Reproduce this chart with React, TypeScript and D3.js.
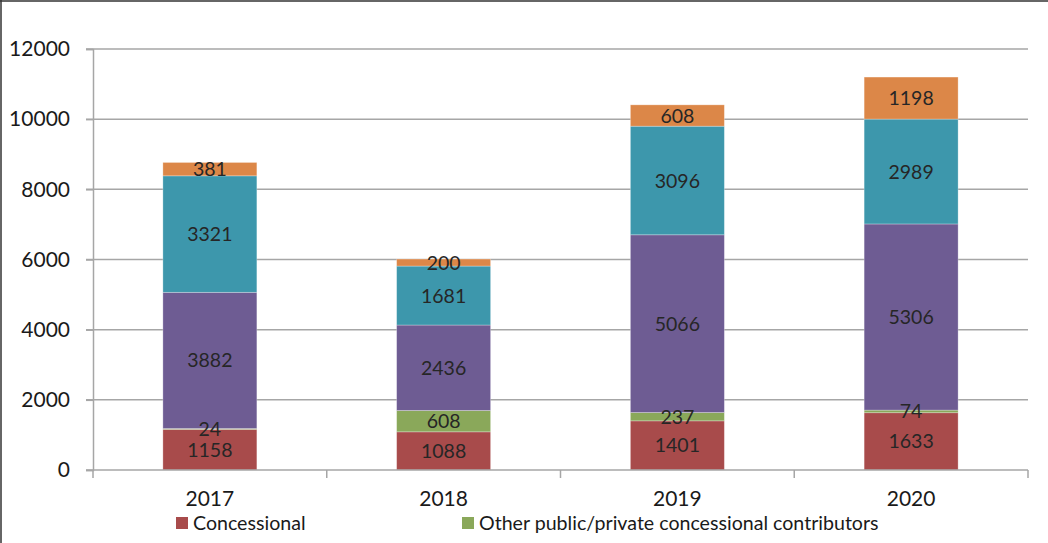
import { useEffect, useRef } from 'react';
import * as d3 from 'd3';

const years = ['2017', '2018', '2019', '2020'];
const seriesNames = [
  'Concessional',
  'Other public/private concessional contributors',
  'Series 3',
  'Series 4',
  'Series 5'
];
const concessional = [1158, 1088, 1401, 1633];
const otherContributors = [24, 608, 237, 74];
const series3 = [3882, 2436, 5066, 5306];
const series4 = [3321, 1681, 3096, 2989];
const series5 = [381, 200, 608, 1198];
const colors = ['#A84B4B', '#8AA85A', '#6E5C93', '#3D97AC', '#DC8748'];
const yTicks = [0, 2000, 4000, 6000, 8000, 10000, 12000];
const legendShown = [0, 1];

export default function App() {
  const svgRef = useRef<SVGSVGElement>(null);

  useEffect(() => {
    const svg = d3.select(svgRef.current);
    svg.selectAll('*').remove();

    const width = 1048;
    const height = 543;
    const margin = { top: 49, right: 20, bottom: 73, left: 93 };
    const innerWidth = width - margin.left - margin.right;
    const innerHeight = height - margin.top - margin.bottom;
    const font = 'Lato, "Open Sans", sans-serif';
    const gridColor = '#A6A6A6';

    // frame (cropped on right/bottom in the original)
    svg.append('line').attr('x1', 1).attr('x2', 1).attr('y1', 0).attr('y2', height).attr('stroke', '#333').attr('stroke-width', 1.5);
    svg.append('line').attr('x1', 0).attr('x2', width).attr('y1', 1).attr('y2', 1).attr('stroke', '#333').attr('stroke-width', 1.5);

    const g = svg.append('g').attr('transform', `translate(${margin.left},${margin.top})`);

    const rows = years.map((year, i) => ({
      year,
      s0: concessional[i],
      s1: otherContributors[i],
      s2: series3[i],
      s3: series4[i],
      s4: series5[i]
    }));
    const keys = ['s0', 's1', 's2', 's3', 's4'];

    const x = d3.scaleBand().domain(years).range([0, innerWidth]).paddingInner(0.598).paddingOuter(0.299);
    const y = d3.scaleLinear().domain([0, 12000]).range([innerHeight, 0]);

    // gridlines with ticks to the left
    g.selectAll('.grid')
      .data(yTicks.filter(d => d > 0))
      .join('line')
      .attr('x1', -7)
      .attr('x2', innerWidth)
      .attr('y1', d => y(d))
      .attr('y2', d => y(d))
      .attr('stroke', gridColor)
      .attr('stroke-width', 1.5);

    const yAxis = g.append('g')
      .call(d3.axisLeft(y).tickValues(yTicks).tickSize(7).tickPadding(16).tickFormat(d3.format('d')));
    yAxis.select('.domain').attr('stroke', gridColor).attr('stroke-width', 1.5);
    yAxis.selectAll('line').attr('stroke', gridColor).attr('stroke-width', 1.5);
    yAxis.selectAll('text').style('font-family', font).style('font-size', '21px').attr('fill', '#1a1a1a');

    const stacked = d3.stack<any>().keys(keys)(rows);

    stacked.forEach((layer, li) => {
      g.selectAll(`.bar-${li}`)
        .data(layer)
        .join('rect')
        .attr('x', d => x(d.data.year)!)
        .attr('y', d => y(d[1]))
        .attr('width', x.bandwidth())
        .attr('height', d => y(d[0]) - y(d[1]))
        .attr('fill', colors[li])
        .attr('stroke', 'rgba(255,255,255,0.35)')
        .attr('stroke-width', 0.8);
    });

    stacked.forEach((layer, li) => {
      g.selectAll(`.lbl-${li}`)
        .data(layer)
        .join('text')
        .attr('x', d => x(d.data.year)! + x.bandwidth() / 2)
        .attr('y', d => (y(d[0]) + y(d[1])) / 2)
        .attr('dy', '0.36em')
        .attr('text-anchor', 'middle')
        .style('font-family', font)
        .style('font-size', '19.5px')
        .attr('fill', '#262626')
        .text(d => d[1] - d[0]);
    });

    // x axis with ticks between categories
    g.append('line')
      .attr('x1', -7).attr('x2', innerWidth)
      .attr('y1', innerHeight).attr('y2', innerHeight)
      .attr('stroke', gridColor).attr('stroke-width', 1.5);
    const step = x.step();
    g.selectAll('.xtick')
      .data(d3.range(years.length + 1))
      .join('line')
      .attr('x1', i => i * step)
      .attr('x2', i => i * step)
      .attr('y1', innerHeight)
      .attr('y2', innerHeight + 8)
      .attr('stroke', gridColor)
      .attr('stroke-width', 1.5);
    g.selectAll('.xlabel')
      .data(years)
      .join('text')
      .attr('x', d => x(d)! + x.bandwidth() / 2)
      .attr('y', innerHeight + 36)
      .attr('text-anchor', 'middle')
      .style('font-family', font)
      .style('font-size', '21px')
      .attr('fill', '#1a1a1a')
      .text(d => d);

    // legend (only first two entries visible)
    const legendX = [176, 462];
    const legend = svg.selectAll('.legend')
      .data(legendShown)
      .join('g')
      .attr('transform', (d, i) => `translate(${legendX[i]},517)`);
    legend.append('rect').attr('width', 12).attr('height', 12).attr('fill', d => colors[d]);
    legend.append('text')
      .attr('x', 17)
      .attr('y', 6)
      .attr('dy', '0.36em')
      .style('font-family', font)
      .style('font-size', '19.6px')
      .attr('fill', '#1a1a1a')
      .text(d => seriesNames[d]);
  }, []);

  return (
    <svg
      ref={svgRef}
      width={1048}
      height={543}
      style={{ position: 'absolute', left: 0, top: 0, background: '#fff' }}
    />
  );
}
